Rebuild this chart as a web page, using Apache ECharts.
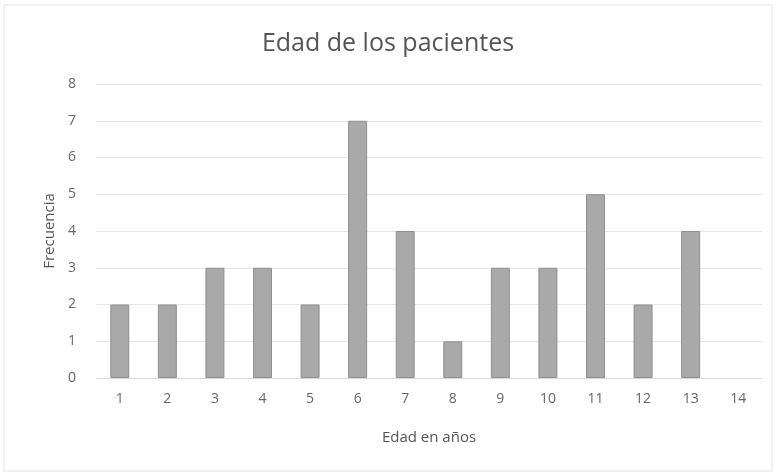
<!DOCTYPE html>
<html><head><meta charset="utf-8">
<script src="https://cdn.jsdelivr.net/npm/echarts@6/dist/echarts.min.js"></script>
<style>html,body{margin:0;padding:0;background:#fff}#c{width:776px;height:475px}</style>
</head><body><div id="c"></div>
<script>
const categories = ['1','2','3','4','5','6','7','8','9','10','11','12','13','14'];
const frecuencia = [2,2,3,3,2,7,4,1,3,3,5,2,4,0];
const titleText = 'Edad de los pacientes';
const xName = 'Edad en años';
const yName = 'Frecuencia';

const chart = echarts.init(document.getElementById('c'));
const font = '"Open Sans", "Liberation Sans", sans-serif';
chart.setOption({
  backgroundColor: '#fff',
  animation: false,
  graphic: [{type:'rect', shape:{x:4,y:5,width:768,height:466}, style:{fill:'none', stroke:'#e4e4e4', lineWidth:1}}],
  title: {text: titleText, left: 'center', top: 26, textStyle:{fontFamily: font, fontSize: 25, fontWeight: 'normal', color:'#555'}},
  grid: {left: 96, right: 14, top: 84, bottom: 97},
  xAxis: {type:'category', data: categories, name: xName, nameLocation:'middle', nameGap: 52,
    nameTextStyle:{fontFamily:font, fontSize:15, color:'#555'},
    axisLine:{lineStyle:{color:'#d9d9d9'}}, axisTick:{show:false},
    axisLabel:{fontFamily:font, fontSize:14, color:'#666', margin: 14}},
  yAxis: {type:'value', min:0, max:8, interval:1, name: yName, nameLocation:'middle', nameGap: 36,
    nameTextStyle:{fontFamily:font, fontSize:15, color:'#555'},
    axisLine:{show:false}, axisTick:{show:false},
    axisLabel:{fontFamily:font, fontSize:14, color:'#666', margin: 20},
    splitLine:{lineStyle:{color:'#e6e6e6'}}},
  series: [{type:'bar', barWidth: 19,
    data: frecuencia.map(v => v === 0 ? {value: v, itemStyle:{borderWidth:0}} : v),
    itemStyle:{color:'#a9a9a9', borderColor:'#8f8f8f', borderWidth:1}}]
});
</script></body></html>
